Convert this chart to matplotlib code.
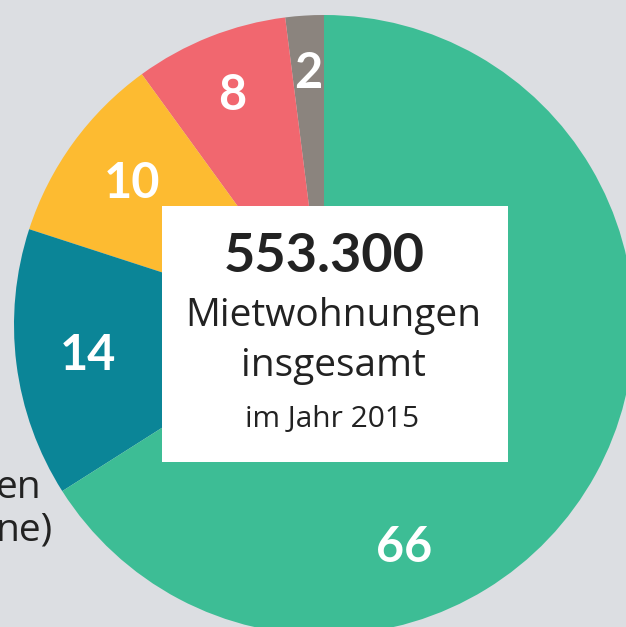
import matplotlib.pyplot as plt
from matplotlib.patches import Rectangle

# shares in percent, counterclockwise from 12 o'clock
shares = [2, 8, 10, 14, 66]
colors = ['#8b847e', '#f1676f', '#fdbb31', '#0b8597', '#3dbd95']
labels = ['2', '8', '10', '14', '66']
label_pos = [(308, 74), (232, 96), (132, 184), (88, 356), (404, 548)]

total = '553.300'
line1 = 'Mietwohnungen'
line2 = 'insgesamt'
line3 = 'im Jahr 2015'

W, H = 626, 627
bg = '#dcdee2'
ink = '#222222'

fig = plt.figure(figsize=(W / 100, H / 100), dpi=100, facecolor=bg)
ax = fig.add_axes([0, 0, 1, 1])
ax.set_facecolor(bg)

ax.pie(shares, colors=colors, startangle=90, counterclock=True,
       center=(324, H - 325), radius=310, frame=True,
       wedgeprops=dict(linewidth=0))
ax.set_xlim(0, W)
ax.set_ylim(0, H)
ax.set_aspect('equal')
ax.axis('off')

for lab, (x, y) in zip(labels, label_pos):
    ax.text(x, H - y, lab, color='white', fontsize=35, fontweight='bold',
            family='Lato', ha='center', va='center')

ax.add_patch(Rectangle((162, H - 462), 346, 256, facecolor='white', zorder=3))

ax.text(324, H - 257, total, fontsize=39, fontweight='bold', family='Lato',
        color=ink, ha='center', va='center', zorder=4)
ax.text(333, H - 316, line1, fontsize=28, family='Open Sans',
        color=ink, ha='center', va='center', zorder=4)
ax.text(333, H - 366, line2, fontsize=28, family='Open Sans',
        color=ink, ha='center', va='center', zorder=4)
ax.text(332, H - 420, line3, fontsize=21.5, family='Open Sans',
        color=ink, ha='center', va='center', zorder=4)

# text cut off at the left edge of the original graphic
ax.text(-4, H - 488, 'en', fontsize=28, family='Open Sans', color=ink,
        ha='left', va='center')
ax.text(-4, H - 531, 'ne)', fontsize=28, family='Open Sans', color=ink,
        ha='left', va='center')

fig.savefig('out.png', dpi=100, facecolor=bg)
